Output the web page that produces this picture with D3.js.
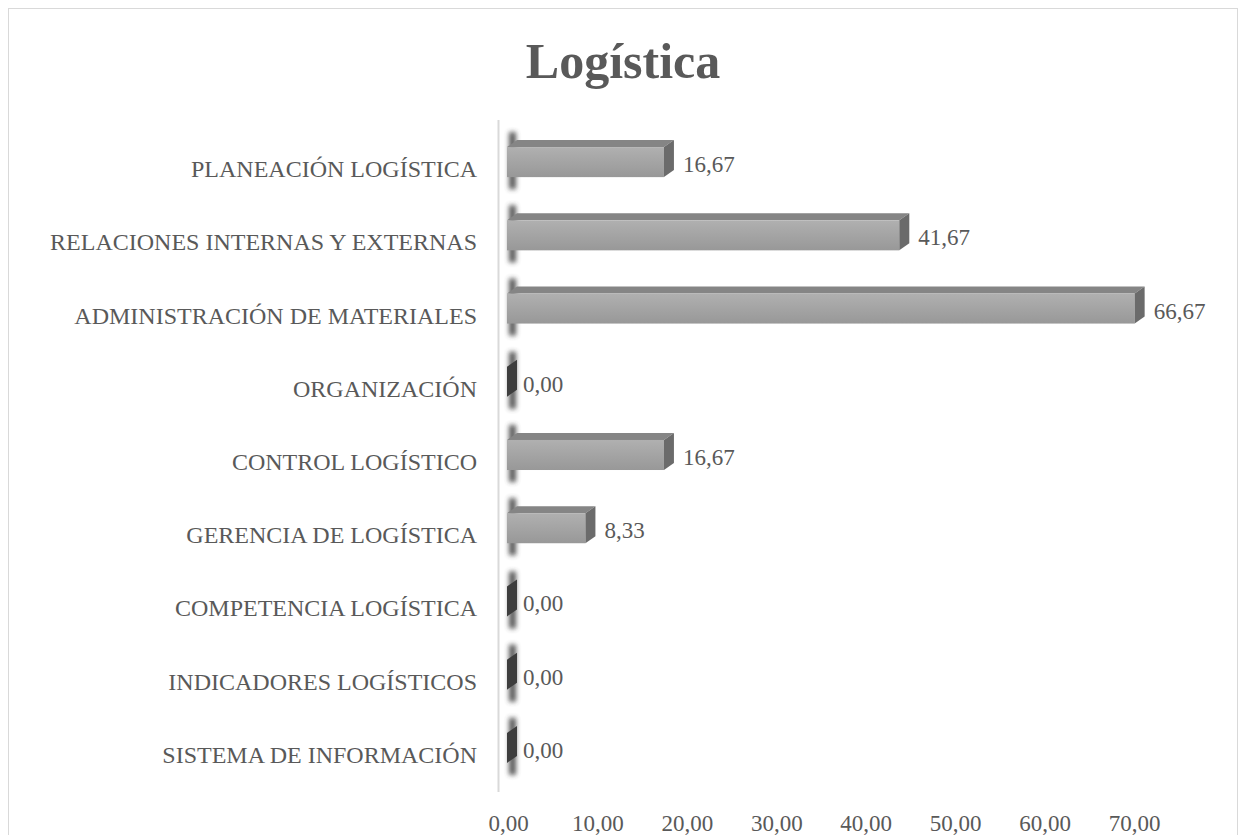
<!DOCTYPE html>
<html>
<head>
<meta charset="utf-8">
<script src="https://cdn.jsdelivr.net/npm/d3@7"></script>
<style>
  body { margin: 0; background: #fff; }
  text { font-family: "Liberation Serif", "Times New Roman", serif; fill: #595959; }
</style>
</head>
<body>
<div id="chart"></div>
<script>
// datos del gráfico
const categories = [
  'PLANEACIÓN LOGÍSTICA',
  'RELACIONES INTERNAS Y EXTERNAS',
  'ADMINISTRACIÓN DE MATERIALES',
  'ORGANIZACIÓN ',
  'CONTROL LOGÍSTICO',
  'GERENCIA DE LOGÍSTICA',
  'COMPETENCIA LOGÍSTICA',
  'INDICADORES LOGÍSTICOS',
  'SISTEMA DE INFORMACIÓN'
];
const values = [16.67, 41.67, 66.67, 0, 16.67, 8.33, 0, 0, 0];
const tickValues = [0, 10, 20, 30, 40, 50, 60, 70];

const width = 1246, height = 835;
const depthX = 10, depthY = 7;

const locale = d3.formatLocale({ decimal: ',', thousands: '.', grouping: [3], currency: ['', ''] });
const fmt = locale.format('.2f');

const svg = d3.select('#chart')
  .append('svg')
  .attr('width', width)
  .attr('height', height);

// gradiente y desenfoque
const defs = svg.append('defs');
const grad = defs.append('linearGradient')
  .attr('id', 'frontGrad')
  .attr('x1', 0).attr('y1', 0).attr('x2', 0).attr('y2', 1);
grad.append('stop').attr('offset', '0%').attr('stop-color', '#b0b0b0');
grad.append('stop').attr('offset', '100%').attr('stop-color', '#989898');
defs.append('filter').attr('id', 'blur')
  .attr('x', '-100%').attr('y', '-50%').attr('width', '300%').attr('height', '200%')
  .append('feGaussianBlur').attr('stdDeviation', 2.5);

// borde
svg.append('rect')
  .attr('x', 8.5).attr('y', 8.5)
  .attr('width', width - 17).attr('height', height)
  .attr('fill', 'none')
  .attr('stroke', '#d9d9d9');

// título
svg.append('text')
  .attr('x', 623).attr('y', 78)
  .attr('text-anchor', 'middle')
  .attr('font-size', '50px')
  .attr('font-weight', 'bold')
  .text('Logística');

// escalas: el eje (pared de fondo) y las barras (frente) difieren por la perspectiva 3D
const xAxisScale = d3.scaleLinear().domain([0, 70]).range([508, 1134]);
const x = d3.scaleLinear().domain([0, 70]).range([507, 1166]);
const y = d3.scaleBand()
  .domain(categories)
  .range([125.5, 784.5])
  .paddingInner(0.59)
  .paddingOuter(0.295);

// línea del eje vertical
svg.append('line')
  .attr('x1', 498.5).attr('x2', 498.5)
  .attr('y1', 120).attr('y2', 792)
  .attr('stroke', '#d9d9d9')
  .attr('stroke-width', 2);

// sombras borrosas junto al eje
svg.append('g').attr('class', 'shadows')
  .selectAll('rect')
  .data(categories)
  .enter()
  .append('rect')
  .attr('x', x(0) + 2)
  .attr('y', d => y(d) - 15)
  .attr('width', 7)
  .attr('height', y.bandwidth() + 27)
  .attr('fill', '#3a3a3a')
  .attr('opacity', 0.85)
  .attr('filter', 'url(#blur)');

// barras 3D
const bars = svg.append('g').attr('class', 'bars')
  .selectAll('g')
  .data(categories.map((c, i) => ({ cat: c, value: values[i] })))
  .enter()
  .append('g');

bars.filter(d => d.value > 0).append('polygon')
  .attr('points', d => {
    const x0 = x(0), x1 = x(d.value), t = y(d.cat);
    return [[x0, t], [x0 + depthX, t - depthY], [x1 + depthX, t - depthY], [x1, t]].join(' ');
  })
  .attr('fill', '#858585');

bars.filter(d => d.value > 0).append('rect')
  .attr('x', x(0))
  .attr('y', d => y(d.cat))
  .attr('width', d => x(d.value) - x(0))
  .attr('height', y.bandwidth())
  .attr('fill', 'url(#frontGrad)');

bars.append('polygon')
  .attr('points', d => {
    const x1 = x(d.value), t = y(d.cat), b = t + y.bandwidth();
    return [[x1, t], [x1 + depthX, t - depthY], [x1 + depthX, b - depthY], [x1, b]].join(' ');
  })
  .attr('fill', d => d.value > 0 ? '#6b6b6b' : '#3d3d3d');

// etiquetas de valores
bars.append('text')
  .attr('x', d => x(d.value) + depthX + (d.value > 0 ? 9 : 6))
  .attr('y', d => y(d.cat) + y.bandwidth() - 5)
  .attr('font-size', '23px')
  .text(d => fmt(d.value));

// etiquetas de categorías
svg.append('g').selectAll('text')
  .data(categories)
  .enter()
  .append('text')
  .attr('x', 477)
  .attr('y', d => y(d) + y.bandwidth())
  .attr('text-anchor', 'end')
  .attr('font-size', '24px')
  .text(d => d);

// eje inferior
const axis = svg.append('g')
  .attr('transform', 'translate(0,812)')
  .call(d3.axisBottom(xAxisScale).tickValues(tickValues).tickSize(0).tickFormat(fmt));
axis.select('.domain').remove();
axis.selectAll('text')
  .attr('font-size', '23px')
  .attr('fill', '#595959')
  .attr('font-family', '"Liberation Serif", "Times New Roman", serif');
</script>
</body>
</html>
